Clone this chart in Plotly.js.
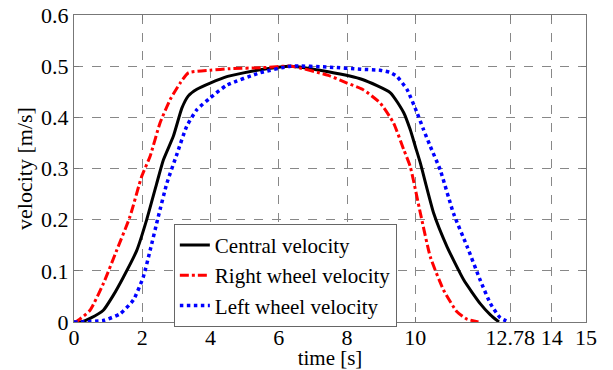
<!DOCTYPE html>
<html>
<head>
<meta charset="utf-8">
<script src="https://cdn.plot.ly/plotly-3.0.1.min.js"></script>
<style>html,body{margin:0;padding:0;background:#fff;}#chart{width:613px;height:370px;}</style>
</head>
<body>
<div id="chart"></div>
<script>
const centralT = [0, 0.2, 0.5, 0.86, 1.15, 1.45, 1.84, 2.13, 2.42, 2.62, 2.91, 3.16, 3.35, 3.6, 3.99, 4.5, 5.45, 6.35, 7.45, 8.45, 9.27, 9.66, 9.85, 10.0, 10.15, 10.54, 10.93, 11.42, 11.9, 12.2, 12.45];
const centralV = [0, 0, 0.008, 0.023, 0.052, 0.088, 0.14, 0.2, 0.27, 0.317, 0.363, 0.418, 0.442, 0.455, 0.467, 0.48, 0.493, 0.5, 0.489, 0.474, 0.448, 0.409, 0.376, 0.343, 0.31, 0.212, 0.147, 0.082, 0.036, 0.014, 0];

const rightT = [0, 0.05, 0.47, 0.86, 1.25, 1.64, 1.98, 2.23, 2.52, 2.82, 3.11, 3.35, 3.99, 4.57, 5.5, 6.35, 7.45, 8.0, 8.45, 8.97, 9.36, 9.66, 9.85, 10.15, 10.44, 10.83, 11.22, 11.5, 11.85];
const rightV = [0, 0, 0.023, 0.075, 0.14, 0.206, 0.284, 0.324, 0.389, 0.435, 0.467, 0.487, 0.492, 0.495, 0.497, 0.5, 0.482, 0.467, 0.455, 0.428, 0.389, 0.337, 0.304, 0.212, 0.127, 0.062, 0.02, 0.006, 0];

const leftT = [0, 0.2, 0.86, 1.35, 1.74, 2.03, 2.23, 2.47, 2.72, 3.01, 3.3, 3.6, 3.99, 4.48, 5.45, 6.35, 7.5, 8.39, 8.97, 9.25, 9.46, 9.76, 10.05, 10.24, 10.44, 10.73, 11.12, 11.52, 11.9, 12.2, 12.49, 12.75];
const leftV = [0, 0, 0.003, 0.016, 0.043, 0.088, 0.14, 0.206, 0.271, 0.327, 0.382, 0.415, 0.438, 0.463, 0.487, 0.5, 0.498, 0.494, 0.492, 0.488, 0.48, 0.454, 0.409, 0.376, 0.343, 0.297, 0.212, 0.147, 0.082, 0.036, 0.008, 0];

const xTickVals = [0, 2, 4, 6, 8, 10, 12.78, 14, 15];
const xTickText = ['0', '2', '4', '6', '8', '10', '12.78', '14', '15'];
const yTickVals = [0, 0.1, 0.2, 0.3, 0.4, 0.5, 0.6];
const yTickText = ['0', '0.1', '0.2', '0.3', '0.4', '0.5', '0.6'];

const names = ['Central velocity', 'Right wheel velocity', 'Left wheel velocity'];

const traces = [
  {x: centralT, y: centralV, name: names[0], mode: 'lines', line: {color: '#000000', width: 3, shape: 'spline', smoothing: 0.5}},
  {x: rightT, y: rightV, name: names[1], mode: 'lines', line: {color: '#ff0000', width: 3, dash: 'dashdot', shape: 'spline', smoothing: 0.5}},
  {x: leftT, y: leftV, name: names[2], mode: 'lines', line: {color: '#0000ff', width: 3.5, dash: 'dot', shape: 'spline', smoothing: 0.5}}
];

function mkFont(s) { return {family: 'Liberation Serif, serif', size: s || 22, color: '#000000'}; }

const layout = {
  width: 613, height: 370,
  margin: {l: 74, r: 27, t: 15, b: 48},
  paper_bgcolor: '#ffffff', plot_bgcolor: '#ffffff',
  font: mkFont(),
  showlegend: true,
  legend: {
    x: 0.195, y: 0.32, xanchor: 'left', yanchor: 'top',
    bgcolor: '#ffffff', bordercolor: '#666666', borderwidth: 1,
    font: mkFont(21), tracegroupgap: 0, itemwidth: 30
  },
  xaxis: {
    range: [0, 15], tickmode: 'array', tickvals: xTickVals, ticktext: xTickText,
    showline: true, linecolor: '#777777', linewidth: 1, mirror: 'ticks',
    ticks: 'inside', ticklen: 5, tickcolor: '#777777',
    showgrid: true, gridcolor: '#888888', griddash: 'dash', gridwidth: 1,
    zeroline: false, automargin: false,
    tickfont: mkFont(), ticklabelstandoff: -4,
    title: {text: 'time [s]', font: mkFont(21), standoff: 9}
  },
  yaxis: {
    range: [0, 0.6], tickmode: 'array', tickvals: yTickVals, ticktext: yTickText,
    showline: true, linecolor: '#777777', linewidth: 1, mirror: 'ticks',
    ticks: 'inside', ticklen: 5, tickcolor: '#777777',
    showgrid: true, gridcolor: '#888888', griddash: 'dash', gridwidth: 1,
    zeroline: false, automargin: false,
    tickfont: mkFont(),
    title: {text: 'velocity [m/s]', font: mkFont(), standoff: 2}
  }
};

Plotly.newPlot('chart', traces, layout, {displayModeBar: false, staticPlot: true});
</script>
</body>
</html>
